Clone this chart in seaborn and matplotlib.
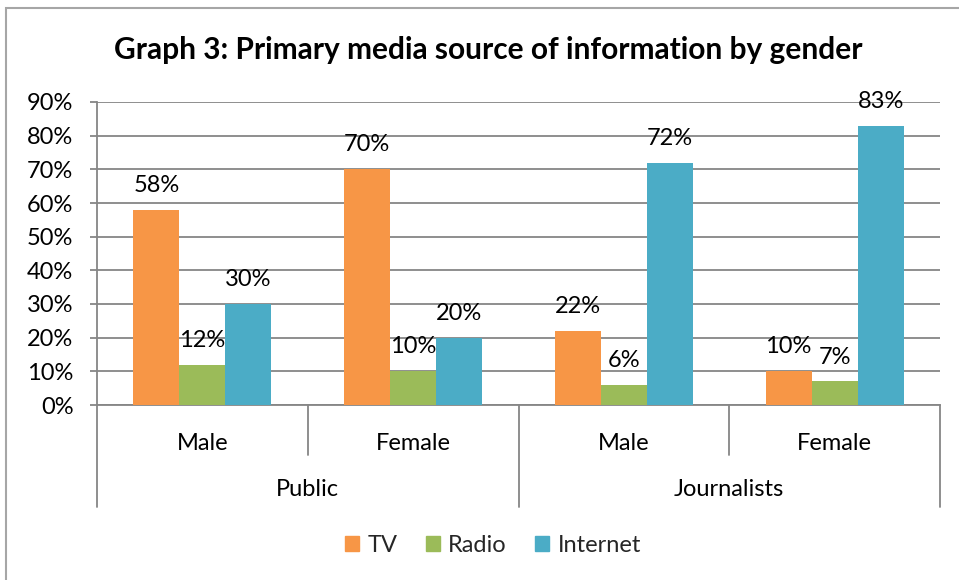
import matplotlib
matplotlib.use("Agg")
import matplotlib.pyplot as plt
import matplotlib.patches as mpatches
from matplotlib.ticker import FuncFormatter
import seaborn as sns
import pandas as pd

# Survey results (percent)
groups = ["Public", "Public", "Journalists", "Journalists"]
genders = ["Male", "Female", "Male", "Female"]
media = ["TV", "Radio", "Internet"]
tv = [58, 70, 22, 10]
radio = [12, 10, 6, 7]
internet = [30, 20, 72, 83]
colors = ["#F79646", "#9BBB59", "#4BACC6"]
yticks = [0, 10, 20, 30, 40, 50, 60, 70, 80, 90]

keys = [f"{g} {s}" for g, s in zip(groups, genders)]
rows = []
for name, vals in zip(media, [tv, radio, internet]):
    for k, v in zip(keys, vals):
        rows.append({"cat": k, "media": name, "value": v})
df = pd.DataFrame(rows)

sns.set_theme(style="white")
plt.rcParams["font.family"] = ["Lato", "DejaVu Sans"]

FS = 17
W, H = 959, 580
fig = plt.figure(figsize=(W / 100, H / 100), dpi=100)
ax = fig.add_axes([97 / W, 1 - 405 / H, (940 - 97) / W, (405 - 102) / H])

sns.barplot(data=df, x="cat", y="value", hue="media", order=keys,
            hue_order=media, palette=colors, width=0.655, linewidth=0,
            saturation=1, ax=ax, legend=False, zorder=3)

grid_c = "#868686"
ax.set_ylim(0, 90)
ax.set_xlim(-0.5, len(keys) - 0.5)
ax.set_yticks(yticks)
ax.yaxis.set_major_formatter(FuncFormatter(lambda v, p: f"{v:.0f}%"))
ax.yaxis.grid(True, color=grid_c, linewidth=1.3, zorder=0)
ax.set_axisbelow(True)
for s in ["top", "right"]:
    ax.spines[s].set_visible(False)
for s in ["left", "bottom"]:
    ax.spines[s].set_color(grid_c)
    ax.spines[s].set_linewidth(1.3)
ax.tick_params(axis="y", left=True, length=5, width=1.3, color=grid_c,
               pad=12, labelsize=FS, labelcolor="black")
ax.set_xticks(range(len(keys)))
ax.set_xticklabels(genders)
ax.tick_params(axis="x", bottom=False, pad=14, labelsize=FS, labelcolor="black")
ax.set_xlabel("")
ax.set_ylabel("")

# Value labels above bars
for cont in ax.containers:
    ax.bar_label(cont, labels=[f"{v:.0f}%" for v in cont.datavalues],
                 padding=10, fontsize=FS, color="black")

# Two-level category axis separators
xt = ax.get_xaxis_transform()
ax_h = 405 - 102
inner = -50 / ax_h
outer = -102 / ax_h
for x in [0.5, 2.5]:
    ax.plot([x, x], [0, inner], transform=xt, color=grid_c, lw=1.3, clip_on=False)
for x in [-0.5, 1.5, 3.5]:
    ax.plot([x, x], [0, outer], transform=xt, color=grid_c, lw=1.3, clip_on=False)
for label, x in [("Public", 0.5), ("Journalists", 2.5)]:
    ax.text(x, -85 / ax_h, label, transform=xt, ha="center", va="center",
            fontsize=FS, color="black")

fig.text(488 / W, 1 - 50 / H, "Graph 3: Primary media source of information by gender",
         ha="center", va="center", fontsize=21.5, fontweight="bold", color="black")

handles = [mpatches.Patch(color=c, label=m) for c, m in zip(colors, media)]
fig.legend(handles=handles, loc="center", bbox_to_anchor=(493 / W, 1 - 545 / H),
           ncol=3, frameon=False, fontsize=FS, handlelength=0.6, handleheight=0.6,
           handletextpad=0.35, columnspacing=1.2)

# Chart border
fig.add_artist(mpatches.Rectangle((6 / W, -0.05), 1.0, 1 - 8 / H + 0.05,
                                  transform=fig.transFigure, fill=False,
                                  edgecolor="#a6a6a6", lw=1.5))

fig.savefig("out.png", dpi=100)
